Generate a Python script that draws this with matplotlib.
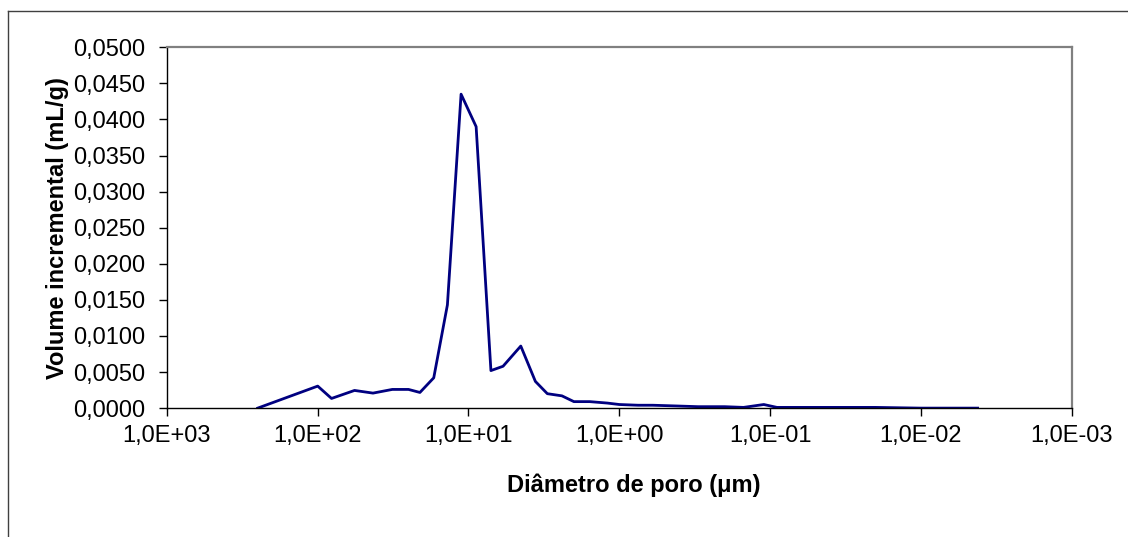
import matplotlib
matplotlib.use('Agg')
import matplotlib.pyplot as plt
from matplotlib.ticker import FixedLocator, FuncFormatter
from matplotlib.lines import Line2D

plt.rcParams['font.family'] = ['Liberation Sans', 'DejaVu Sans']

# pore diameter (um) and incremental volume (mL/g)
diametro = [250, 100, 81, 57, 43, 32, 25, 21, 17, 13.8, 11.2, 8.9, 7.1, 5.9,
            4.5, 3.6, 3.0, 2.4, 2.0, 1.57, 1.2, 1.0, 0.75, 0.6, 0.42, 0.3,
            0.2, 0.15, 0.11, 0.09, 0.05, 0.03, 0.02, 0.01, 0.0042]
volume = [0.0, 0.00305, 0.00134, 0.00245, 0.00208, 0.00259, 0.00259, 0.00217,
          0.0042, 0.0143, 0.0435, 0.0390, 0.0052, 0.0058, 0.0086, 0.0037,
          0.0020, 0.0017, 0.0009, 0.0009, 0.0007, 0.0005, 0.0004, 0.0004,
          0.0003, 0.0002, 0.0002, 0.0001, 0.0005, 0.0001, 0.0001, 0.0001,
          0.0001, 0.0, 0.0]

x_ticks = [1e3, 1e2, 1e1, 1e0, 1e-1, 1e-2, 1e-3]
y_ticks = [0.0, 0.005, 0.010, 0.015, 0.020, 0.025, 0.030, 0.035, 0.040, 0.045, 0.050]


def fmt_x(v, pos):
    s = '%.1E' % v
    mant, exp = s.split('E')
    return mant.replace('.', ',') + 'E' + exp[0] + exp[1:].zfill(2)


def fmt_y(v, pos):
    return ('%.4f' % v).replace('.', ',')


fig = plt.figure(figsize=(11.28, 5.37), dpi=100)
ax = fig.add_axes([0.148, 0.240, 0.802, 0.672])

ax.plot(diametro, volume, color='#000080', linewidth=2.0)

ax.set_xscale('log')
ax.set_xlim(1e3, 1e-3)
ax.set_ylim(0, 0.05)
ax.xaxis.set_major_locator(FixedLocator(x_ticks))
ax.xaxis.set_minor_locator(FixedLocator([]))
ax.xaxis.set_major_formatter(FuncFormatter(fmt_x))
ax.yaxis.set_major_locator(FixedLocator(y_ticks))
ax.yaxis.set_major_formatter(FuncFormatter(fmt_y))

ax.tick_params(axis='both', direction='out', length=5.5, width=1, labelsize=17, colors='black')
ax.tick_params(axis='x', pad=7)
ax.tick_params(axis='y', pad=10)

for s in ['left', 'bottom']:
    ax.spines[s].set_color('black')
    ax.spines[s].set_linewidth(1.0)
for s in ['top', 'right']:
    ax.spines[s].set_color('#808080')
    ax.spines[s].set_linewidth(1.6)

ax.set_xlabel('Diâmetro de poro (μm)', fontsize=17, fontweight='bold', labelpad=19)
ax.xaxis.label.set_x(0.516)  # Excel puts it a bit right of centre
ax.set_ylabel('Volume incremental (mL/g)', fontsize=17, fontweight='bold', labelpad=3)

# outer chart border (left and top edges visible)
fig.add_artist(Line2D([8 / 1128, 8 / 1128], [0, 1 - 11 / 537], transform=fig.transFigure,
                      color='#404040', linewidth=1.0))
fig.add_artist(Line2D([8 / 1128, 1], [1 - 11 / 537, 1 - 11 / 537], transform=fig.transFigure,
                      color='#404040', linewidth=1.0))

fig.savefig('out.png', dpi=100)
